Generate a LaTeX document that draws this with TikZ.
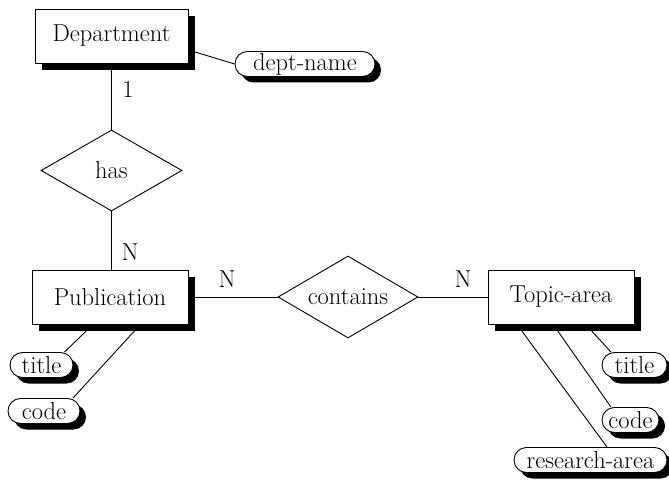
\documentclass[tikz,border=0pt]{standalone}
\usetikzlibrary{shapes.geometric,shadows,calc,backgrounds}
\newcommand{\erfont}{\fontsize{24.5}{28}\selectfont}
\begin{document}
\begin{tikzpicture}[x=1pt,y=-1pt,
  entbox/.style={draw, fill=white, line width=0.9pt, minimum height=54, inner sep=0, font=\erfont,
    drop shadow={shadow xshift=7pt, shadow yshift=-7pt, fill=black, opacity=1}},
  attrpill/.style={draw, fill=white, line width=0.9pt, rounded corners=12.5pt, minimum height=25, inner sep=0, font=\erfont,
    drop shadow={shadow xshift=6pt, shadow yshift=-6pt, fill=black, opacity=1}},
  reldiam/.style={diamond, aspect=1.7, draw, fill=white, line width=0.9pt, inner sep=0, font=\erfont},
  cardlbl/.style={font=\erfont, inner sep=0},
  connline/.style={line width=0.9pt}
]
\useasboundingbox (0,0) rectangle (669,481);
% entities
\node[entbox, minimum width=153] (dep) at (111.5,36) {Department};
\node[entbox, minimum width=156] (pub) at (110,297) {Publication};
\node[entbox, minimum width=146] (top) at (561,297) {Topic-area};
% relationships
\node[reldiam, minimum width=141, minimum height=81] (has) at (111.5,170.5) {has};
\node[reldiam, minimum width=140, minimum height=82] (con) at (348,297) {contains};
% attributes
\node[attrpill, minimum width=140] (dn) at (305,64) {dept-name};
\node[attrpill, minimum width=63] (t1) at (41.5,365) {title};
\node[attrpill, minimum width=72] (c1) at (44,411) {code};
\node[attrpill, minimum width=65] (t2) at (634.5,365) {title};
\node[attrpill, minimum width=57] (c2) at (630.5,420) {code};
\node[attrpill, minimum width=153] (ra) at (590.5,460) {research-area};
% cardinalities
\node[cardlbl] (l1) at (128,89) {1};
\node[cardlbl] (l2) at (130,252) {N};
\node[cardlbl] (l3) at (227,279) {N};
\node[cardlbl] (l4) at (463,279) {N};
% connectors
\begin{scope}[on background layer]
\draw[connline] ($(dep.east)+(0,14)$) -- (dn.west);
\draw[connline] (dep.south) -- (has.north);
\draw[connline] (has.south) -- (has.south |- pub.north);
\draw[connline] (pub.east) -- (con.west);
\draw[connline] (con.east) -- (top.west);
\draw[connline] ($(pub.south)+(-17,0)$) -- ($(t1.north)+(23,0)$);
\draw[connline] ($(pub.south)+(30.4,0)$) -- ($(c1.north)+(29,0)$);
\draw[connline] ($(top.south)+(24.7,0)$) -- ($(t2.north)+(-23.5,0)$);
\draw[connline] ($(top.south)+(-7.8,0)$) -- ($(c2.north)+(-19.5,0)$);
\draw[connline] ($(top.south)+(-44,0)$) -- ($(ra.north)+(16.5,0)$);
\end{scope}
\end{tikzpicture}
\end{document}
